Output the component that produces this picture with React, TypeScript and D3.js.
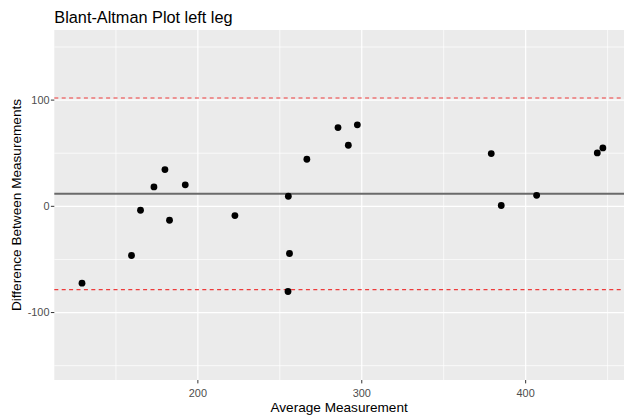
import React from "react";
import * as d3 from "d3";

const averages = [129.3, 159.5, 165.0, 173.2, 179.9, 182.7, 192.3, 222.6, 255.2, 255.9, 255.0, 266.5, 285.5, 291.8, 297.3, 379.0, 385.1, 406.7, 443.7, 447.1];
const differences = [-72.3, -46.3, -3.7, 18.3, 34.6, -13.1, 20.2, -8.7, 9.5, -44.4, -80.2, 44.3, 74.1, 57.5, 76.7, 49.7, 0.8, 10.4, 50.3, 55.0];
const meanDiff = 11.8;
const upperLoA = 102.0;
const lowerLoA = -78.4;
const xMajor = [200, 300, 400];
const xMinor = [150, 250, 350, 450];
const yMajor = [-100, 0, 100];
const yMinor = [-150, -50, 50, 150];

const W = 624;
const H = 418;
const panel = { left: 54.3, right: 624, top: 30, bottom: 380 };

export default function App() {
  const x = d3.scaleLinear().domain([112.4, 460]).range([panel.left, panel.right]);
  const y = d3.scaleLinear().domain([-163.5, 166]).range([panel.bottom, panel.top]);
  const font = "'Liberation Sans', Arial, sans-serif";
  const pw = panel.right - panel.left;
  const ph = panel.bottom - panel.top;
  return (
    <svg width={W} height={H} style={{ position: "absolute", left: 0, top: 0 }} fontFamily={font}>
      <rect x={0} y={0} width={W} height={H} fill="#fff" />
      <text x={54.3} y={22.5} fontSize={16.3} fill="#000">Blant-Altman Plot left leg</text>
      <rect x={panel.left} y={panel.top} width={pw} height={ph} fill="#EBEBEB" />
      <g stroke="#fff">
        {yMinor.map((v) => (
          <line key={"ym" + v} x1={panel.left} x2={panel.right} y1={y(v)} y2={y(v)} strokeWidth={0.7} />
        ))}
        {xMinor.map((v) => (
          <line key={"xm" + v} x1={x(v)} x2={x(v)} y1={panel.top} y2={panel.bottom} strokeWidth={0.7} />
        ))}
        {yMajor.map((v) => (
          <line key={"yM" + v} x1={panel.left} x2={panel.right} y1={y(v)} y2={y(v)} strokeWidth={1.2} />
        ))}
        {xMajor.map((v) => (
          <line key={"xM" + v} x1={x(v)} x2={x(v)} y1={panel.top} y2={panel.bottom} strokeWidth={1.2} />
        ))}
      </g>
      <line x1={panel.left} x2={panel.right} y1={y(meanDiff)} y2={y(meanDiff)} stroke="#6A6A6A" strokeWidth={2.1} />
      {[upperLoA, lowerLoA].map((v) => (
        <line key={"loa" + v} x1={panel.left} x2={panel.right} y1={y(v)} y2={y(v)} stroke="#EE3B3B" strokeWidth={1.2} strokeDasharray="4,3.4" />
      ))}
      {averages.map((a, i) => (
        <circle key={i} cx={x(a)} cy={y(differences[i])} r={3.4} fill="#000" />
      ))}
      {xMajor.map((v) => (
        <g key={"xt" + v}>
          <line x1={x(v)} x2={x(v)} y1={panel.bottom} y2={panel.bottom + 3.4} stroke="#333" strokeWidth={1} />
          <text x={x(v)} y={397} textAnchor="middle" fontSize={10.9} fill="#4D4D4D">{v}</text>
        </g>
      ))}
      {yMajor.map((v) => (
        <g key={"yt" + v}>
          <line x1={panel.left - 3.4} x2={panel.left} y1={y(v)} y2={y(v)} stroke="#333" strokeWidth={1} />
          <text x={49.5} y={y(v) + 3.9} textAnchor="end" fontSize={10.9} fill="#4D4D4D">{v}</text>
        </g>
      ))}
      <text x={(panel.left + panel.right) / 2} y={412} textAnchor="middle" fontSize={13.6} fill="#000">Average Measurement</text>
      <text transform={`translate(20.5, ${(panel.top + panel.bottom) / 2}) rotate(-90)`} textAnchor="middle" fontSize={13.6} fill="#000">Difference Between Measurements</text>
    </svg>
  );
}
